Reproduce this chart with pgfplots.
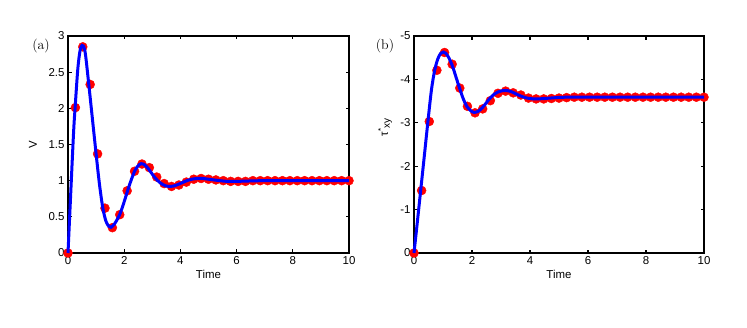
\documentclass[border=0pt]{standalone}
\usepackage{fontspec}
\usepackage{pgfplots}
\pgfplotsset{compat=1.18}
\newfontfamily\hv{Liberation Sans}

\pgfplotstableread{
x y
0.000 0.00
0.263 2.01
0.526 2.85
0.789 2.33
1.053 1.37
1.316 0.62
1.579 0.35
1.842 0.53
2.105 0.86
2.368 1.13
2.632 1.23
2.895 1.18
3.158 1.05
3.421 0.96
3.684 0.92
3.947 0.94
4.211 0.98
4.474 1.02
4.737 1.03
5.000 1.02
5.263 1.01
5.526 1.00
5.789 0.99
6.053 0.99
6.316 0.99
6.579 1.00
6.842 1.00
7.105 1.00
7.368 1.00
7.632 1.00
7.895 1.00
8.158 1.00
8.421 1.00
8.684 1.00
8.947 1.00
9.211 1.00
9.474 1.00
9.737 1.00
10.000 1.00
}\vmarks

\pgfplotstableread{
x y
0 0
0.1 0.85
0.2 1.68
0.26 2.05
0.35 2.55
0.43 2.80
0.5 2.87
0.55 2.86
0.62 2.75
0.74 2.33
0.87 1.85
1.0 1.37
1.12 0.95
1.24 0.62
1.35 0.44
1.45 0.37
1.53 0.355
1.65 0.40
1.76 0.47
1.86 0.55
2.0 0.71
2.12 0.86
2.25 1.01
2.37 1.13
2.48 1.20
2.6 1.235
2.72 1.22
2.85 1.17
3.0 1.09
3.12 1.03
3.25 0.98
3.38 0.945
3.5 0.925
3.62 0.92
3.75 0.925
3.9 0.945
4.05 0.97
4.2 0.995
4.4 1.02
4.6 1.03
4.8 1.03
5.0 1.02
5.2 1.01
5.4 1.0
5.6 0.992
5.8 0.99
6.0 0.99
6.4 0.995
7.0 1.0
8.5 1.0
10 1.0
}\vline

\pgfplotstableread{
x y
0.000 0.00
0.263 -1.44
0.526 -3.03
0.789 -4.21
1.053 -4.62
1.316 -4.35
1.579 -3.80
1.842 -3.38
2.105 -3.23
2.368 -3.32
2.632 -3.51
2.895 -3.68
3.158 -3.73
3.421 -3.69
3.684 -3.64
3.947 -3.57
4.211 -3.55
4.474 -3.55
4.737 -3.56
5.000 -3.57
5.263 -3.58
5.526 -3.59
5.789 -3.59
6.053 -3.59
6.316 -3.59
6.579 -3.59
6.842 -3.59
7.105 -3.59
7.368 -3.59
7.632 -3.59
7.895 -3.59
8.158 -3.59
8.421 -3.59
8.684 -3.59
8.947 -3.59
9.211 -3.59
9.474 -3.59
9.737 -3.59
10.000 -3.59
}\tmarks

\pgfplotstableread{
x y
0 0
0.1 -0.62
0.23 -1.44
0.35 -2.20
0.48 -3.03
0.6 -3.75
0.71 -4.20
0.82 -4.47
0.92 -4.60
1.01 -4.63
1.1 -4.60
1.2 -4.50
1.33 -4.30
1.45 -4.05
1.58 -3.78
1.7 -3.55
1.82 -3.38
1.95 -3.28
2.07 -3.24
2.2 -3.26
2.33 -3.33
2.47 -3.44
2.6 -3.55
2.75 -3.65
2.9 -3.71
3.05 -3.74
3.16 -3.745
3.3 -3.73
3.45 -3.69
3.6 -3.64
3.75 -3.60
3.9 -3.57
4.05 -3.555
4.2 -3.55
4.4 -3.555
4.6 -3.565
4.8 -3.575
5.0 -3.585
5.3 -3.59
6.0 -3.59
8.0 -3.59
10 -3.59
}\tline

\pgfplotsset{
  myax/.style={
    scale only axis, height=217bp,
    xmin=0, xmax=10, xtick={0,2,...,10},
    axis line style={line width=1.5bp},
    every tick/.style={line width=1.2bp, black},
    major tick length=3.5bp,
    tick label style={font=\hv\fontsize{11.5}{13}\selectfont},
    label style={font=\hv\fontsize{11.5}{13}\selectfont},
    /pgf/number format/assume math mode=true,
    xlabel={Time},
    xlabel style={at={(axis description cs:0.5,-0.097)}, anchor=center},
    clip=false,
    clip marker paths=true,
  },
  mk/.style={only marks, mark=*, mark size=4.5bp, mark options={draw=red, fill=red}},
  ln/.style={no marks, smooth, color={rgb,255:red,0;green,0;blue,255}, line width=3bp},
}

\begin{document}
\begin{tikzpicture}
\useasboundingbox (0,0) rectangle (747bp,328bp);
\begin{axis}[myax, at={(68bp,75bp)}, anchor=south west, width=281bp,
  ymin=0, ymax=3, ytick={0,0.5,...,3},
  ylabel={V},
  ylabel style={at={(axis description cs:-0.125,0.5)}, anchor=center},
]
\addplot[mk] table[x=x,y=y] {\vmarks};
\addplot[ln] table[x=x,y=y] {\vline};
\node[font=\fontsize{14}{16}\selectfont] at (axis description cs:-0.096,0.954) {(a)};
\end{axis}
\begin{axis}[myax, at={(414bp,75bp)}, anchor=south west, width=290bp,
  y dir=reverse, ymin=-5, ymax=0, ytick={-5,-4,...,0},
  ylabel={τ\textsuperscript{*}\raisebox{-2bp}{\fontsize{10}{12}\selectfont xy}},
  ylabel style={at={(axis description cs:-0.1,0.58)}, anchor=center},
]
\addplot[mk] table[x=x,y=y] {\tmarks};
\addplot[ln] table[x=x,y=y] {\tline};
\node[font=\fontsize{14}{16}\selectfont] at (axis description cs:-0.1,0.956) {(b)};
\end{axis}
\end{tikzpicture}
\end{document}
